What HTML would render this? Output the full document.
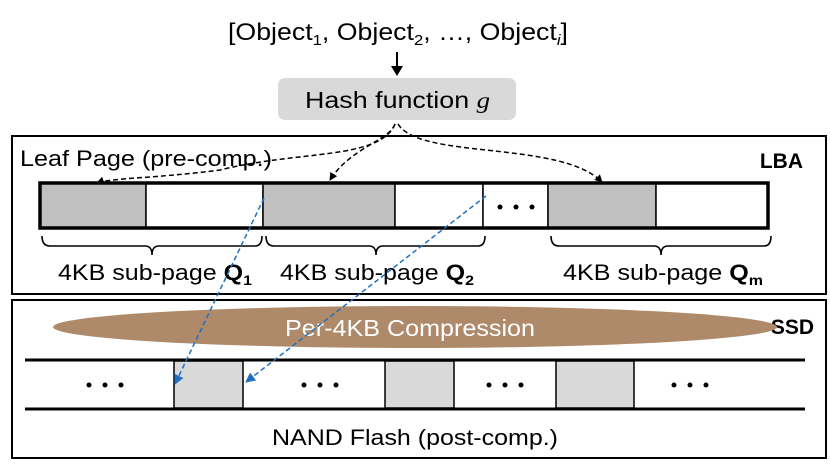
<!DOCTYPE html>
<html><head><style>body{margin:0;background:#fff}svg{display:block}text{font-family:"Liberation Sans",sans-serif}</style></head><body>
<svg width="830" height="470" viewBox="0 0 830 470" xmlns="http://www.w3.org/2000/svg">
<defs>
<marker id="ab" markerWidth="8" markerHeight="8" refX="7" refY="4" orient="auto" markerUnits="userSpaceOnUse"><path d="M0,0 L8,4 L0,8 z" fill="#000"/></marker>
<marker id="au" markerWidth="10" markerHeight="10" refX="9" refY="5" orient="auto" markerUnits="userSpaceOnUse"><path d="M0,0 L10,5 L0,10 z" fill="#1f6fc0"/></marker>
</defs>
<text x="228" y="40" font-size="24" textLength="340" lengthAdjust="spacingAndGlyphs" fill="#000">[Object<tspan font-size="15" dy="5">1</tspan><tspan dy="-5">, Object</tspan><tspan font-size="15" dy="5">2</tspan><tspan dy="-5">, …, Object</tspan><tspan font-size="15" dy="5" font-style="italic">i</tspan><tspan dy="-5">]</tspan></text>
<line x1="397" y1="52" x2="397" y2="68" stroke="#000" stroke-width="2"/>
<path d="M391,66 L403,66 L397,76 z" fill="#000"/>
<rect x="278" y="78" width="238" height="42" rx="7" fill="#d9d9d9"/>
<text x="305" y="108" font-size="23" textLength="185" lengthAdjust="spacingAndGlyphs">Hash function <tspan font-family="Liberation Serif" font-style="italic">g</tspan></text>
<rect x="12" y="136" width="814" height="158" fill="none" stroke="#000" stroke-width="2"/>
<rect x="12" y="300" width="814" height="158" fill="none" stroke="#000" stroke-width="2"/>
<text x="20" y="166" font-size="22" textLength="252" lengthAdjust="spacingAndGlyphs">Leaf Page (pre-comp.)</text>
<text x="803" y="168" font-size="21" font-weight="bold" text-anchor="end">LBA</text>
<text x="814" y="334" font-size="21" font-weight="bold" text-anchor="end">SSD</text>
<g stroke="#000" stroke-width="1.5">
<rect x="40" y="183" width="106" height="45" fill="#c0c0c0"/>
<rect x="146" y="183" width="117" height="45" fill="#fff"/>
<rect x="263" y="183" width="132" height="45" fill="#c0c0c0"/>
<rect x="395" y="183" width="88" height="45" fill="#fff"/>
<rect x="483" y="183" width="65" height="45" fill="#fff"/>
<rect x="548" y="183" width="108" height="45" fill="#c0c0c0"/>
<rect x="656" y="183" width="112" height="45" fill="#fff"/>
</g>
<rect x="40" y="183" width="728" height="45" fill="none" stroke="#000" stroke-width="3.5"/>
<g fill="#000"><circle cx="500" cy="207" r="2.5"/><circle cx="516" cy="207" r="2.5"/><circle cx="532" cy="207" r="2.5"/></g>
<g fill="none" stroke="#000" stroke-width="1.6">
<path d="M42,236 Q42,246 50,246 L145,246 Q152,246 152,255 Q152,246 159,246 L255,246 Q262,246 262,236"/>
<path d="M266,236 Q266,246 274,246 L369,246 Q376,246 376,255 Q376,246 383,246 L478,246 Q485,246 485,236"/>
<path d="M551,236 Q551,246 559,246 L654,246 Q661,246 661,255 Q661,246 668,246 L764,246 Q771,246 771,236"/>
</g>
<text x="58" y="280" font-size="22" textLength="194" lengthAdjust="spacingAndGlyphs">4KB sub-page <tspan font-weight="bold">Q</tspan><tspan font-weight="bold" font-size="14" dy="5">1</tspan></text>
<text x="280" y="280" font-size="22" textLength="194" lengthAdjust="spacingAndGlyphs">4KB sub-page <tspan font-weight="bold">Q</tspan><tspan font-weight="bold" font-size="14" dy="5">2</tspan></text>
<text x="563" y="280" font-size="22" textLength="200" lengthAdjust="spacingAndGlyphs">4KB sub-page <tspan font-weight="bold">Q</tspan><tspan font-weight="bold" font-size="14" dy="5">m</tspan></text>
<g fill="none" stroke="#000" stroke-width="1.5" stroke-dasharray="5,3">
<path d="M395,124 C380,160 300,150 220,170 C160,178 110,178 97,183" marker-end="url(#ab)"/>
<path d="M395,124 C390,140 350,148 330,180" marker-end="url(#ab)"/>
<path d="M398,124 C420,160 560,140 602,182" marker-end="url(#ab)"/>
</g>
<ellipse cx="415" cy="327" rx="362" ry="21" fill="#ae8a6a"/>
<text x="285" y="336" font-size="23" textLength="250" lengthAdjust="spacingAndGlyphs" fill="#fff">Per-4KB Compression</text>
<g stroke="#000" stroke-width="1.5">
<rect x="174" y="361" width="69" height="47" fill="#d9d9d9"/>
<rect x="385" y="361" width="69" height="47" fill="#d9d9d9"/>
<rect x="556" y="361" width="78" height="47" fill="#d9d9d9"/>
</g>
<line x1="25" y1="360" x2="805" y2="360" stroke="#000" stroke-width="3"/>
<line x1="25" y1="409" x2="805" y2="409" stroke="#000" stroke-width="3"/>
<g fill="#000">
<circle cx="89" cy="385" r="2.5"/><circle cx="105" cy="385" r="2.5"/><circle cx="121" cy="385" r="2.5"/>
<circle cx="304" cy="385" r="2.5"/><circle cx="320" cy="385" r="2.5"/><circle cx="336" cy="385" r="2.5"/>
<circle cx="489" cy="385" r="2.5"/><circle cx="505" cy="385" r="2.5"/><circle cx="521" cy="385" r="2.5"/>
<circle cx="674" cy="385" r="2.5"/><circle cx="690" cy="385" r="2.5"/><circle cx="706" cy="385" r="2.5"/>
</g>
<g fill="none" stroke="#1f6fc0" stroke-width="1.5" stroke-dasharray="5,3">
<line x1="264" y1="198" x2="175" y2="384" marker-end="url(#au)"/>
<line x1="486" y1="196" x2="246" y2="382" marker-end="url(#au)"/>
</g>
<text x="272" y="445" font-size="22" textLength="286" lengthAdjust="spacingAndGlyphs">NAND Flash (post-comp.)</text>
</svg>
</body></html>
